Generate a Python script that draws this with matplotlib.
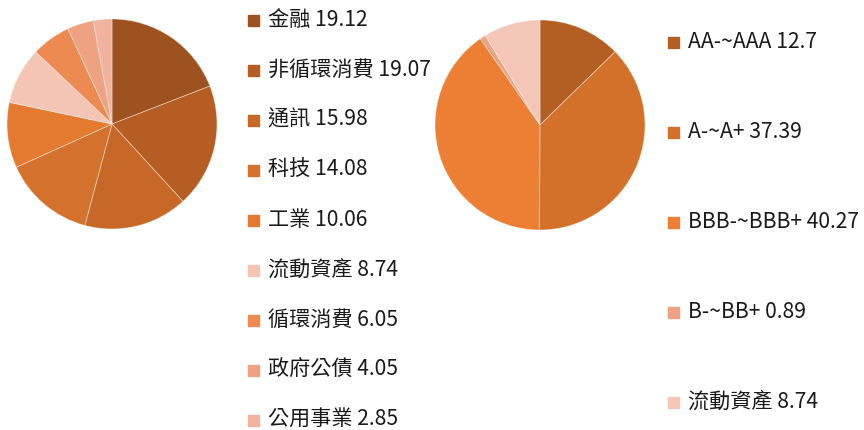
import matplotlib.pyplot as plt

plt.rcParams['font.family'] = ['Noto Sans CJK TC', 'DejaVu Sans']

# sector breakdown
sector_names = ['金融', '非循環消費', '通訊', '科技', '工業', '流動資產', '循環消費', '政府公債', '公用事業']
sector_vals = [19.12, 19.07, 15.98, 14.08, 10.06, 8.74, 6.05, 4.05, 2.85]
sector_colors = ['#9E5220', '#B55D23', '#C76828', '#D4712C', '#E47A30',
                 '#F4C4B4', '#EC8A52', '#EFA282', '#F2B39E']

# credit rating breakdown
rating_names = ['AA-~AAA', 'A-~A+', 'BBB-~BBB+', 'B-~BB+', '流動資產']
rating_vals = [12.7, 37.39, 40.27, 0.89, 8.74]
rating_colors = ['#B35E22', '#D37029', '#EC7F33', '#EFA183', '#F4C6B8']

W, H = 864, 430
fig = plt.figure(figsize=(W / 100, H / 100), dpi=100)


def px_axes(x0, y0, x1, y1):
    return fig.add_axes([x0 / W, 1 - y1 / H, (x1 - x0) / W, (y1 - y0) / H])


def draw_pie(ax, vals, colors):
    ax.pie(vals, colors=colors, startangle=90, counterclock=False,
           wedgeprops=dict(edgecolor=(1, 1, 1, 0.45), linewidth=0.6))
    ax.set_xlim(-1, 1)
    ax.set_ylim(-1, 1)
    ax.set_aspect('equal')
    ax.axis('off')


ax1 = px_axes(7, 19, 217, 229)
draw_pie(ax1, sector_vals, sector_colors)
ax2 = px_axes(435, 20, 645, 230)
draw_pie(ax2, rating_vals, rating_colors)


def draw_legend(names, vals, colors, x, y_top, step):
    for i, (n, v, c) in enumerate(zip(names, vals, colors)):
        y = y_top + i * step
        fig.patches.append(plt.Rectangle((x / W, 1 - (y + 6) / H), 11 / W, 11 / H,
                                         transform=fig.transFigure, color=c))
        fig.text((x + 20) / W, 1 - y / H, f'{n} {v}',
                 fontsize=15.2, color='#1a1a1a', va='center', ha='left')


draw_legend(sector_names, sector_vals, sector_colors, 248, 20, 50)
draw_legend(rating_names, rating_vals, rating_colors, 668, 42, 90)

fig.savefig('out.png', dpi=100)
